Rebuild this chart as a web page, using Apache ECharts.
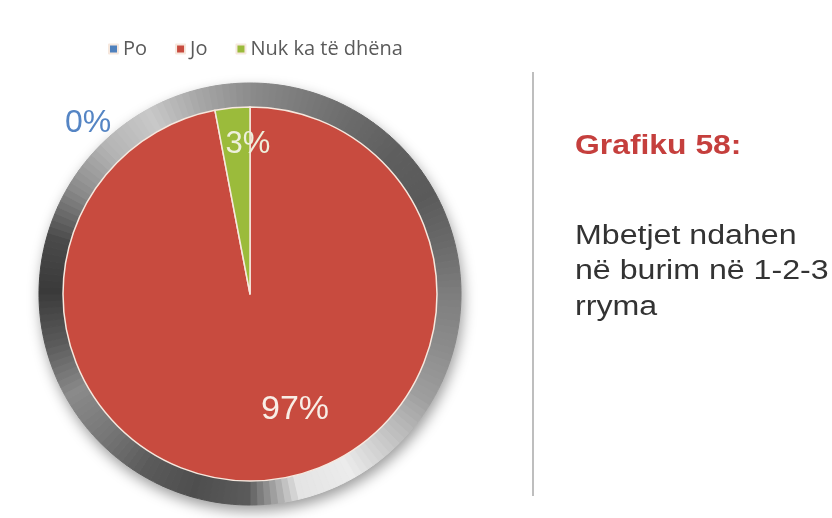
<!DOCTYPE html>
<html>
<head>
<meta charset="utf-8">
<script src="https://cdn.jsdelivr.net/npm/echarts@6/dist/echarts.min.js"></script>
<style>
html,body{margin:0;padding:0;background:#fff;}
#chart{width:832px;height:518px;}
</style>
</head>
<body>
<div id="chart"></div>
<script>
// ---- data ----
const categories = ['Po', 'Jo', 'Nuk ka të dhëna'];
const values = [0, 97, 3];
const colors = ['#4f81bd', '#c84b3f', '#9bbb3b'];
const titleText = 'Grafiku 58:';
const descLines = ['Mbetjet ndahen', 'në burim në 1-2-3', 'rryma'];

// ---- decorative metallic ring shades, every 15° clockwise from top (styling only) ----
const ringStops = ['#8a8a8a', '#7a7a7a', '#6a6a6a', '#5e5e5e', '#5a5a5a', '#6a6a6a',
                   '#7e7e7e', '#8c8c8c', '#9e9e9e', '#c4c4c4', '#ececec', '#e4e4e4',
                   '#5a5a5a', '#4e4e4e', '#5a5a5a', '#777777', '#8a8a8a', '#5a5a5a',
                   '#3a3a3a', '#4a4a4a', '#8a8a8a', '#b4b4b4', '#c8c8c8', '#a6a6a6'];
function hexToRgb(h){return [parseInt(h.substr(1,2),16),parseInt(h.substr(3,2),16),parseInt(h.substr(5,2),16)];}
const ringData = [];
const segPer = 8;
for (let i = 0; i < ringStops.length; i++) {
  const a = hexToRgb(ringStops[i]);
  const b = hexToRgb(ringStops[(i + 1) % ringStops.length]);
  for (let k = 0; k < segPer; k++) {
    const t = k / segPer;
    const c = 'rgb(' + a.map((v, j) => Math.round(v + (b[j] - v) * t)).join(',') + ')';
    ringData.push({ value: 1, itemStyle: { color: c, borderColor: c, borderWidth: 1 } });
  }
}

const cx = 250, cy = 294;
const labelOffsets = [[-162, -74], [36, 20], [7, -53]];
const labelColors = ['#5585c4', '#f8eee6', '#eef0dc'];
const labelSizes = [32, 34, 31];

const textGraphics = [
  { type: 'line', shape: { x1: 533, y1: 72, x2: 533, y2: 496 }, style: { stroke: '#a8a8a8', lineWidth: 1.5 } },
  { type: 'text', x: 575, y: 147, scaleX: 1.18,
    style: { text: titleText, x: 0, y: 0, fill: '#c53f3d', font: 'bold 27px "Liberation Sans"', verticalAlign: 'middle', align: 'left' } }
];
const lineMid = [237, 272, 308];
descLines.forEach((t, i) => {
  textGraphics.push({ type: 'text', x: 575, y: lineMid[i], scaleX: 1.19,
    style: { text: t, x: 0, y: 0, fill: '#333333', font: '27px "Liberation Sans"', verticalAlign: 'middle', align: 'left' } });
});

const chart = echarts.init(document.getElementById('chart'));
chart.setOption({
  backgroundColor: '#ffffff',
  animation: false,
  legend: {
    data: categories,
    left: 103,
    top: 34,
    icon: 'rect',
    itemWidth: 9,
    itemHeight: 9,
    itemGap: 28,
    textStyle: { fontSize: 20, color: '#5a5a5a', fontFamily: 'Open Sans' }
  },
  graphic: textGraphics,
  series: [
    {
      type: 'pie', silent: true, center: [cx, cy], radius: [0, 211],
      label: { show: false }, labelLine: { show: false },
      itemStyle: { color: '#cccccc', shadowColor: 'rgba(0,0,0,0.4)', shadowBlur: 14, shadowOffsetY: 6, shadowOffsetX: 2 },
      data: [{ value: 1 }], z: 1
    },
    {
      type: 'pie', silent: true, center: [cx, cy], radius: [186, 211],
      startAngle: 90, label: { show: false }, labelLine: { show: false },
      data: ringData, z: 2
    },
    {
      type: 'pie', name: 'Grafiku 58', center: [cx, cy], radius: [0, 187],
      startAngle: 90, clockwise: true, silent: true,
      itemStyle: { borderColor: '#f6e8de', borderWidth: 1.5 },
      labelLine: { show: false },
      data: categories.map((name, i) => ({
        name: name,
        value: values[i],
        itemStyle: { color: colors[i] },
        label: {
          show: true, position: 'inside',
          formatter: values[i] + '%',
          offset: labelOffsets[i],
          color: labelColors[i],
          fontSize: labelSizes[i],
          fontFamily: 'Liberation Sans',
          fontWeight: 'normal'
        }
      })),
      z: 3
    }
  ]
});
</script>
</body>
</html>
